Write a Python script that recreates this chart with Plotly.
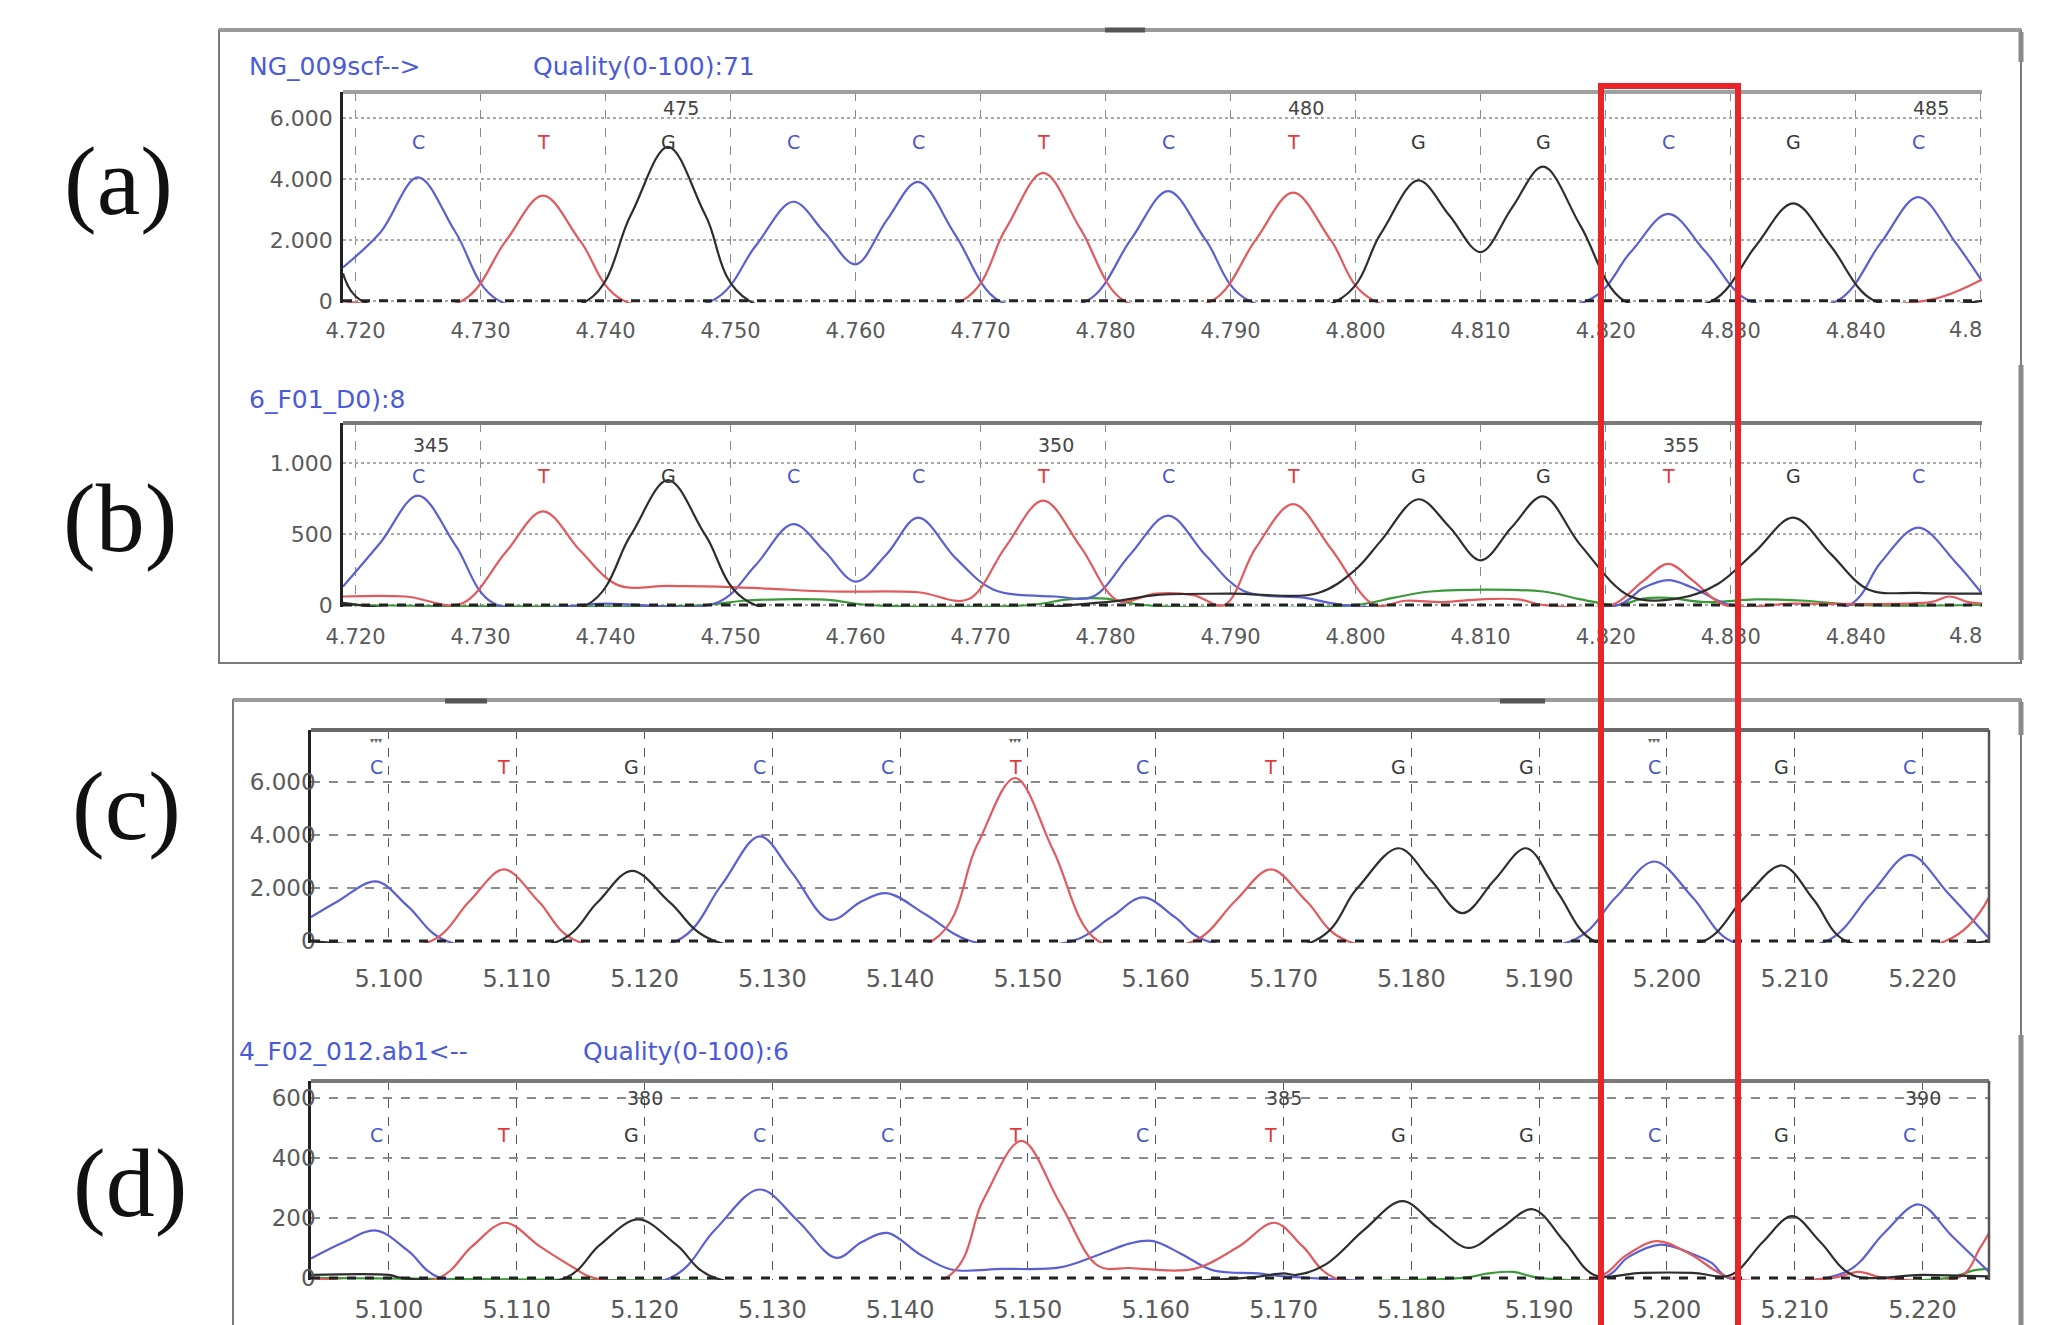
import plotly.graph_objects as go

W, H = 2055, 1325

# ---------------- data ----------------
# Panel (a): reference trace, scan positions 4719..4850
a_C_x = [4719, 4722, 4725, 4728, 4731.5, 4748.5, 4752, 4755, 4757.5, 4760, 4762.5, 4765, 4768, 4771.5,
         4778.5, 4782, 4785, 4788, 4791.5, 4818.5, 4822, 4825, 4828, 4831.5, 4838.5, 4842, 4845, 4848, 4850.1]
a_C_y = [1100, 2250, 4050, 2250, 0, 0, 1800, 3250, 2250, 1200, 2650, 3900, 2150, 0,
         0, 2000, 3600, 2000, 0, 0, 1600, 2850, 1600, 0, 0, 1900, 3400, 1900, 650]
a_T_x = [4719, 4728.5, 4732, 4735, 4738, 4741.5, 4768.5, 4772, 4775, 4778, 4781.5, 4788.5, 4792, 4795,
         4798, 4801.5, 4845.5, 4848, 4850.1]
a_T_y = [0, 0, 1950, 3450, 1950, 0, 0, 2350, 4200, 2350, 0, 0, 2000, 3550,
         2000, 0, 0, 300, 700]
a_G_x = [4719, 4720.5, 4738.5, 4742, 4745, 4748, 4751.5, 4798.5, 4802, 4805, 4807.5, 4810, 4812.5, 4815,
         4818, 4821.5, 4828.5, 4832, 4835, 4838, 4841.5, 4850.1]
a_G_y = [900, 0, 0, 2800, 5050, 2800, 0, 0, 2200, 3950, 2800, 1600, 3050, 4400,
         2450, 0, 0, 1800, 3200, 1800, 0, 0]

# Panel (b): sample trace, same scan window
b_C_x = [4719, 4722, 4725, 4728, 4731, 4740, 4749, 4752, 4755, 4757.5, 4760, 4762.5, 4765, 4768, 4771,
         4776, 4779, 4782, 4785, 4788, 4791, 4796, 4799, 4821, 4823, 4825, 4827, 4830, 4839.5, 4842,
         4845, 4848, 4850.1]
b_C_y = [130, 440, 770, 420, 15, 10, 20, 280, 570, 380, 165, 360, 615, 330, 110,
         60, 60, 360, 630, 350, 100, 50, 0, 0, 120, 175, 120, 0, 0, 300,
         545, 300, 80]
b_T_x = [4719, 4724, 4728.5, 4732, 4735, 4738, 4741, 4745, 4749, 4753, 4758, 4765, 4769, 4772, 4775,
         4778, 4781, 4784, 4787, 4789.5, 4792, 4795, 4798, 4801.5, 4804, 4807, 4810, 4813, 4815, 4820.5,
         4823, 4825, 4827, 4829.5, 4835, 4846, 4847.5, 4849, 4850.1]
b_T_y = [60, 60, 10, 370, 660, 380, 140, 135, 130, 115, 95, 90, 40, 410, 735,
         410, 30, 80, 70, 0, 400, 710, 400, 0, 30, 20, 40, 40, 0, 0,
         170, 290, 170, 0, 10, 20, 60, 20, 10]
b_G_x = [4719, 4738.5, 4742, 4745, 4748, 4751.5, 4780, 4784, 4790, 4797, 4800, 4802, 4805, 4807.5,
         4810, 4812.5, 4815, 4818, 4822, 4826, 4829, 4832, 4835, 4838, 4841, 4845, 4850.1]
b_G_y = [15, 0, 490, 880, 490, 20, 20, 70, 80, 85, 250, 450, 745, 550,
         315, 550, 765, 420, 60, 50, 150, 380, 615, 360, 110, 85, 80]
b_A_x = [4719, 4748, 4751, 4754, 4758, 4761, 4774, 4777, 4780, 4783, 4800, 4803, 4806, 4815, 4818,
         4821, 4823, 4825, 4828, 4832, 4836, 4840, 4850.1]
b_A_y = [0, 0, 30, 40, 35, 0, 0, 40, 45, 0, 0, 50, 95, 95, 40,
         0, 45, 50, 20, 40, 30, 0, 0]

# Panel (c): reference trace, scan positions 5094..5225
c_C_x = [5093.9, 5096, 5099, 5101.5, 5104.5, 5122.5, 5126, 5129, 5131.5, 5134.5, 5137, 5139, 5142, 5145.5,
         5153.5, 5156.5, 5159, 5161.5, 5164, 5192.5, 5196, 5199, 5202, 5205, 5212.5, 5216, 5219, 5222, 5225.2]
c_C_y = [900, 1500, 2250, 1300, 0, 0, 2100, 3950, 2600, 800, 1500, 1800, 1000, 0,
         0, 900, 1650, 900, 0, 0, 1650, 3000, 1650, 0, 0, 1800, 3250, 1800, 100]
c_T_x = [5093.9, 5103.3, 5106.3, 5109, 5111.7, 5114.7, 5142.5, 5146, 5149, 5152, 5155.5, 5163, 5166.2,
         5169, 5171.8, 5175, 5221.8, 5225.2]
c_T_y = [0, 0, 1500, 2700, 1500, 0, 0, 3600, 6150, 3400, 0, 0, 1500,
         2700, 1500, 0, 0, 1650]
c_G_x = [5093.9, 5113.3, 5116.3, 5119, 5122, 5125.5, 5172.4, 5175.7, 5179, 5181.5, 5184, 5186.5, 5189,
         5191.5, 5194.3, 5202.9, 5206, 5209, 5211.5, 5214, 5225.2]
c_G_y = [0, 0, 1450, 2650, 1450, 0, 0, 1950, 3500, 2300, 1050, 2300, 3500,
         1800, 0, 0, 1600, 2850, 1550, 0, 0]

# Panel (d): sample trace, same scan window as (c)
d_C_x = [5093.9, 5096.5, 5099, 5101.5, 5104, 5122, 5125.5, 5129, 5132, 5135, 5137, 5139, 5141.5, 5144,
         5148, 5152.5, 5155.7, 5158, 5159.8, 5162, 5164.5, 5168, 5170, 5195, 5197, 5199.5, 5202, 5203.5,
         5204.8, 5214, 5217, 5219.7, 5222.3, 5225.2]
d_C_y = [65, 120, 158, 90, 0, 0, 160, 295, 190, 67, 120, 150, 80, 28,
         30, 35, 80, 115, 123, 80, 25, 15, 5, 0, 70, 111, 80, 50,
         0, 20, 150, 245, 140, 20]
d_T_x = [5093.9, 5103.9, 5106.5, 5109.1, 5111.8, 5114.5, 5116, 5143.6, 5146.5, 5149.5, 5152.5, 5155.5,
         5158, 5163, 5166.5, 5169.3, 5171.5, 5174, 5194.5, 5196.8, 5199.2, 5201.8, 5205, 5213, 5215, 5217,
         5223, 5224.5, 5225.2]
d_T_y = [0, 0, 105, 184, 105, 33, 0, 0, 260, 457, 250, 40,
         33, 30, 105, 184, 105, 0, 0, 75, 123, 80, 0, 0, 20, 0,
         5, 100, 150]
d_G_x = [5093.9, 5100, 5101, 5113.8, 5116.5, 5119.5, 5122.5, 5125.5, 5167, 5170, 5171, 5173.3, 5176.3,
         5179.3, 5182, 5184.5, 5187, 5189.5, 5192, 5194.3, 5198, 5202, 5205, 5207.5, 5209.8, 5212, 5214.5,
         5220, 5225.2]
d_G_y = [10, 10, 0, 0, 110, 195, 110, 0, 0, 15, 10, 45, 160,
         256, 170, 100, 165, 229, 120, 10, 17, 17, 10, 120, 206, 120, 10,
         10, 5]
d_A_x = [5093.9, 5184, 5186, 5188, 5190, 5222, 5224, 5225.2]
d_A_y = [0, 0, 15, 20, 0, 0, 25, 30]

# base calls
base_pos_ab = [4725, 4735, 4745, 4755, 4765, 4775, 4785, 4795, 4805, 4815, 4825, 4835, 4845]
base_pos_cd = [5099, 5109, 5119, 5129, 5139, 5149, 5159, 5169, 5179, 5189, 5199, 5209, 5219]
bases_a = ["C", "T", "G", "C", "C", "T", "C", "T", "G", "G", "C", "G", "C"]
bases_b = ["C", "T", "G", "C", "C", "T", "C", "T", "G", "G", "T", "G", "C"]
bases_c = ["C", "T", "G", "C", "C", "T", "C", "T", "G", "G", "C", "G", "C"]
bases_d = ["C", "T", "G", "C", "C", "T", "C", "T", "G", "G", "C", "G", "C"]

# base numbering
num_a_text = ["475", "480", "485"]
num_a_pos = [4746, 4796, 4846]
num_b_text = ["345", "350", "355"]
num_b_pos = [4726, 4776, 4826]
num_c_pos = [5099, 5149, 5199]
num_d_text = ["380", "385", "390"]
num_d_pos = [5120, 5170, 5220]

# tick labels
xt_ab = [4720, 4730, 4740, 4750, 4760, 4770, 4780, 4790, 4800, 4810, 4820, 4830, 4840, 4850]
xt_ab_text = ["4.720", "4.730", "4.740", "4.750", "4.760", "4.770", "4.780", "4.790", "4.800",
              "4.810", "4.820", "4.830", "4.840", ""]
xt_cd = [5100, 5110, 5120, 5130, 5140, 5150, 5160, 5170, 5180, 5190, 5200, 5210, 5220]
xt_cd_text = ["5.100", "5.110", "5.120", "5.130", "5.140", "5.150", "5.160", "5.170", "5.180",
              "5.190", "5.200", "5.210", "5.220"]
yt_big = [0, 2000, 4000, 6000]
yt_big_text = ["0", "2.000", "4.000", "6.000"]
yt_b = [0, 500, 1000]
yt_b_text = ["0", "500", "1.000"]
yt_d = [0, 200, 400, 600]
yt_d_text = ["0", "200", "400", "600"]

header_a = ["NG_009scf-->", "Quality(0-100):71"]
header_b = ["6_F01_D0):8"]
header_d = ["4_F02_012.ab1<--", "Quality(0-100):6"]
panel_labels = ["(a)", "(b)", "(c)", "(d)"]

# ---------------- styling ----------------
COL = {"C": "#5a5fd2", "T": "#e05a5e", "G": "#2e2e2e", "A": "#3a9a3a"}
LETTER_COL = {"C": "#4a55cc", "T": "#e03c3c", "G": "#383838", "A": "#2f8f2f"}
BLUE_TXT = "#4a5ad8"
TICK_COL = "#5a5a5a"

# the page places the figure 8 px in from the window corner; screen px -> paper fraction
OFF = 8


def px(x):
    return (x - OFF) / W


def py(y):
    return 1 - (y - OFF) / H


panels = {
    "a": dict(ax="", xdom=(343, 1982), ydom=(92, 303), xr=[4719, 4850.1], yr=[-70, 6850],
              xt=xt_ab, xtt=xt_ab_text, yt=yt_big, ytt=yt_big_text, xfs=21, yfs=22, xso=13, yso=3,
              traces=[("C", a_C_x, a_C_y), ("T", a_T_x, a_T_y), ("G", a_G_x, a_G_y)],
              bases=bases_a, bpos=base_pos_ab, ylet=5220, topcol="#a0a0a0", right=False,
              vgrid="#8a8a8a", hgrid="#a8a8a8", hdash="dot"),
    "b": dict(ax="2", xdom=(343, 1982), ydom=(423, 607), xr=[4719, 4850.1], yr=[-14, 1282],
              xt=xt_ab, xtt=xt_ab_text, yt=yt_b, ytt=yt_b_text, xfs=21, yfs=22, xso=15, yso=3,
              traces=[("A", b_A_x, b_A_y), ("C", b_C_x, b_C_y), ("T", b_T_x, b_T_y), ("G", b_G_x, b_G_y)],
              bases=bases_b, bpos=base_pos_ab, ylet=910, topcol="#7a7a7a", right=False,
              vgrid="#8a8a8a", hgrid="#a8a8a8", hdash="dot"),
    "c": dict(ax="3", xdom=(311, 1989), ydom=(730, 943), xr=[5093.9, 5225.2], yr=[-75, 7962],
              xt=xt_cd, xtt=xt_cd_text, yt=yt_big, ytt=yt_big_text, xfs=24, yfs=23, xso=19, yso=-12,
              traces=[("C", c_C_x, c_C_y), ("T", c_T_x, c_T_y), ("G", c_G_x, c_G_y)],
              bases=bases_c, bpos=base_pos_cd, ylet=6580, topcol="#6a6a6a", right=True,
              vgrid="#555555", hgrid="#8a8a8a", hdash="dash"),
    "d": dict(ax="4", xdom=(311, 1989), ydom=(1081, 1280), xr=[5093.9, 5225.2], yr=[-7, 657],
              xt=xt_cd, xtt=xt_cd_text, yt=yt_d, ytt=yt_d_text, xfs=24, yfs=23, xso=13, yso=-12,
              traces=[("A", d_A_x, d_A_y), ("C", d_C_x, d_C_y), ("T", d_T_x, d_T_y), ("G", d_G_x, d_G_y)],
              bases=bases_d, bpos=base_pos_cd, ylet=476, topcol="#7a7a7a", right=True,
              vgrid="#555555", hgrid="#8a8a8a", hdash="dash"),
}

fig = go.Figure()
layout = dict(width=W, height=H, autosize=False, margin=dict(l=0, r=0, t=0, b=0, pad=0, autoexpand=False),
              paper_bgcolor="white", plot_bgcolor="white", showlegend=False,
              font=dict(family="DejaVu Sans"))
shapes = []
annotations = []

for key, p in panels.items():
    ax = p["ax"]
    xname, yname = "x" + ax, "y" + ax
    for ch, xs, ys in p["traces"]:
        fig.add_trace(go.Scatter(x=xs, y=ys, mode="lines", xaxis=xname, yaxis=yname,
                                 line=dict(color=COL[ch], width=2.2, shape="spline", smoothing=1.0),
                                 hoverinfo="skip"))
    layout["xaxis" + ax] = dict(
        domain=[px(p["xdom"][0]), px(p["xdom"][1])], range=p["xr"], anchor=yname, automargin=False,
        tickvals=p["xt"], ticktext=p["xtt"], showgrid=True, gridcolor=p["vgrid"], griddash="dash",
        gridwidth=1.3, zeroline=False, showline=False, ticks="",
        tickfont=dict(family="DejaVu Sans", size=p["xfs"], color=TICK_COL),
        ticklabelstandoff=p["xso"], fixedrange=True)
    layout["yaxis" + ax] = dict(
        domain=[py(p["ydom"][1]), py(p["ydom"][0])], range=p["yr"], anchor=xname, automargin=False,
        tickvals=p["yt"], ticktext=p["ytt"], showgrid=True, gridcolor=p["hgrid"], griddash=p["hdash"],
        gridwidth=2.2, zeroline=False, showline=True, linecolor="#222222", linewidth=2.6,
        ticks="", tickfont=dict(family="DejaVu Sans", size=p["yfs"], color=TICK_COL),
        ticklabelstandoff=p["yso"], fixedrange=True)
    xd, yd = xname + " domain", yname + " domain"
    # baseline (dark dashed line at zero)
    shapes.append(dict(type="line", xref=xd, yref=yname, x0=0, x1=1, y0=0, y1=0,
                       line=dict(color="#222222", width=3, dash="dash"), layer="above"))
    # top border of the plot area
    shapes.append(dict(type="line", xref=xd, yref=yd, x0=0, x1=1, y0=1, y1=1,
                       line=dict(color=p["topcol"], width=4), layer="above"))
    if p["right"]:
        shapes.append(dict(type="line", xref=xd, yref=yd, x0=1, x1=1, y0=0, y1=1,
                           line=dict(color="#555555", width=2.5), layer="above"))
    # base letters
    for b, xpos in zip(p["bases"], p["bpos"]):
        annotations.append(dict(x=xpos, y=p["ylet"], xref=xname, yref=yname, text=b, showarrow=False,
                                xanchor="center", yanchor="middle",
                                font=dict(family="DejaVu Sans", size=19, color=LETTER_COL[b])))

# numbering
for t, xpos in zip(num_a_text, num_a_pos):
    annotations.append(dict(x=xpos, y=6330, xref="x", yref="y", text=t, showarrow=False,
                            xanchor="center", yanchor="middle",
                            font=dict(family="DejaVu Sans", size=19, color="#444444")))
for t, xpos in zip(num_b_text, num_b_pos):
    annotations.append(dict(x=xpos, y=1130, xref="x2", yref="y2", text=t, showarrow=False,
                            xanchor="center", yanchor="middle",
                            font=dict(family="DejaVu Sans", size=19, color="#444444")))
for xpos in num_c_pos:
    annotations.append(dict(x=xpos, y=7560, xref="x3", yref="y3", text="▾▾▾", showarrow=False,
                            xanchor="center", yanchor="middle",
                            font=dict(family="DejaVu Sans", size=8, color="#666666")))
for t, xpos in zip(num_d_text, num_d_pos):
    annotations.append(dict(x=xpos, y=600, xref="x4", yref="y4", text=t, showarrow=False,
                            xanchor="center", yanchor="middle",
                            font=dict(family="DejaVu Sans", size=19, color="#444444")))

# truncated last tick label of (a) and (b)
for yy in (330, 636):
    annotations.append(dict(x=px(1984), y=py(yy), xref="paper", yref="paper", text="4.8",
                            xanchor="right", yanchor="middle", showarrow=False,
                            font=dict(family="DejaVu Sans", size=21, color=TICK_COL)))


def header(text, x, y):
    annotations.append(dict(x=px(x), y=py(y), xref="paper", yref="paper", text=text,
                            xanchor="left", yanchor="middle", showarrow=False,
                            font=dict(family="DejaVu Sans", size=25, color=BLUE_TXT)))


header(header_a[0], 247, 66)
header(header_a[1], 531, 66)
header(header_b[0], 247, 399)
header(header_d[0], 237, 1051)
header(header_d[1], 581, 1051)

# panel letters
for lab, (cx, cy) in zip(panel_labels, [(118, 181), (120, 518), (126, 806), (130, 1183)]):
    annotations.append(dict(x=px(cx), y=py(cy), xref="paper", yref="paper", text=lab,
                            xanchor="center", yanchor="middle", showarrow=False,
                            font=dict(family="Liberation Serif", size=98, color="#111111")))

# outer window boxes
shapes.append(dict(type="rect", xref="paper", yref="paper", x0=px(219), x1=px(2021), y0=py(663), y1=py(30),
                   line=dict(color="#7a7a7a", width=2), layer="below"))
shapes.append(dict(type="line", xref="paper", yref="paper", x0=px(219), x1=px(2021), y0=py(30), y1=py(30),
                   line=dict(color="#9a9a9a", width=4), layer="below"))
shapes.append(dict(type="rect", xref="paper", yref="paper", x0=px(233), x1=px(2021), y0=py(1345), y1=py(700),
                   line=dict(color="#7a7a7a", width=2), layer="below"))
shapes.append(dict(type="line", xref="paper", yref="paper", x0=px(233), x1=px(2021), y0=py(700), y1=py(700),
                   line=dict(color="#9a9a9a", width=4), layer="below"))
for (x0, x1, yy) in [(1105, 1145, 30), (445, 487, 701), (1500, 1545, 701)]:
    shapes.append(dict(type="line", xref="paper", yref="paper", x0=px(x0), x1=px(x1), y0=py(yy), y1=py(yy),
                       line=dict(color="#555555", width=5), layer="below"))
for (y0, y1) in [(32, 62), (365, 660), (702, 735), (1035, 1330)]:
    shapes.append(dict(type="line", xref="paper", yref="paper", x0=px(2021), x1=px(2021), y0=py(y0), y1=py(y1),
                       line=dict(color="#8a8a8a", width=5), layer="below"))

# red highlight box
shapes.append(dict(type="path", xref="paper", yref="paper",
                   path=f"M {px(1601)},{py(1345)} L {px(1601)},{py(86)} L {px(1738)},{py(86)} L {px(1738)},{py(1345)}",
                   line=dict(color="#e8262a", width=6), layer="above"))

layout["shapes"] = shapes
layout["annotations"] = annotations
fig.update_layout(**layout)
fig.write_html("out.html")
